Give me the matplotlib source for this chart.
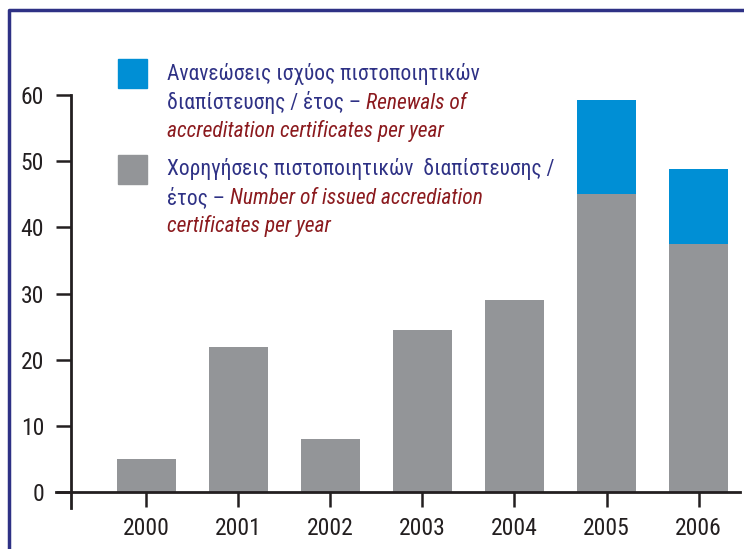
import matplotlib.pyplot as plt
from matplotlib.lines import Line2D

years = ['2000', '2001', '2002', '2003', '2004', '2005', '2006']
issued = [5, 22, 8, 24.5, 29, 45, 37.5]
renewals = [0, 0, 0, 0, 0, 14.3, 11.3]
yticks = [0, 10, 20, 30, 40, 50, 60]

blue = '#008fd5'
grey = '#939598'
navy = '#2e3185'
red = '#8b1a1e'
ink = '#231f20'

plt.rcParams['font.family'] = ['Roboto Condensed', 'Liberation Sans', 'DejaVu Sans']

fig = plt.figure(figsize=(7.44, 5.49), dpi=100)
ax = fig.add_axes([56 / 744, 1 - 508 / 549, (740 - 56) / 744, (508 - 95) / 549])

x = range(len(years))
ax.bar(x, issued, width=0.64, color=grey, zorder=1)
ax.bar(x, renewals, width=0.64, bottom=issued, color=blue, zorder=1)

ax.set_xlim(-0.98, 6.45)
ax.set_ylim(-2.4, 60)
for s in ['top', 'right']:
    ax.spines[s].set_visible(False)
ax.spines['left'].set_position(('data', -0.815))
ax.spines['bottom'].set_position(('data', 0))
for s in ['left', 'bottom']:
    ax.spines[s].set_linewidth(2)
    ax.spines[s].set_color(ink)
    ax.spines[s].set_zorder(3)

ax.set_xticks(list(x))
ax.set_xticklabels(years)
ax.set_yticks(yticks)
ax.tick_params(axis='both', length=11, width=1.8, color=ink, labelsize=17, labelcolor=ink)
ax.tick_params(axis='y', pad=8.5)
ax.tick_params(axis='x', pad=7)

# frame
fig.add_artist(Line2D([9 / 744, 9 / 744, 1], [0, 1 - 10 / 549, 1 - 10 / 549],
                      transform=fig.transFigure, color=navy, lw=2.5))

# legend
sq = 29
fig.patches.append(plt.Rectangle((118 / 744, 1 - 88 / 549), sq / 744, sq / 549,
                                 transform=fig.transFigure, color=blue))
fig.patches.append(plt.Rectangle((118 / 744, 1 - 184 / 549), sq / 744, sq / 549,
                                 transform=fig.transFigure, color=grey))

fs = 15.5


def line(y, parts):
    prev = None
    for txt, col, style in parts:
        if prev is None:
            prev = fig.text(167 / 744, 1 - y / 549, txt, color=col, style=style,
                            fontsize=fs, va='baseline', ha='left')
        else:
            prev = ax.annotate(txt, xy=(1, 0), xycoords=prev, color=col, style=style,
                               fontsize=fs, va='bottom', ha='left',
                               annotation_clip=False)


line(80, [('Ανανεώσεις ισχύος πιστοποιητικών', navy, 'normal')])
line(109, [('διαπίστευσης / έτος – ', navy, 'normal'), ('Renewals of', red, 'italic')])
line(137, [('accreditation certificates per year', red, 'italic')])
line(175, [('Χορηγήσεις πιστοποιητικών  διαπίστευσης /', navy, 'normal')])
line(204, [('έτος – ', navy, 'normal'), ('Number of issued accrediation', red, 'italic')])
line(232, [('certificates per year', red, 'italic')])

fig.savefig('out.png', dpi=100)
